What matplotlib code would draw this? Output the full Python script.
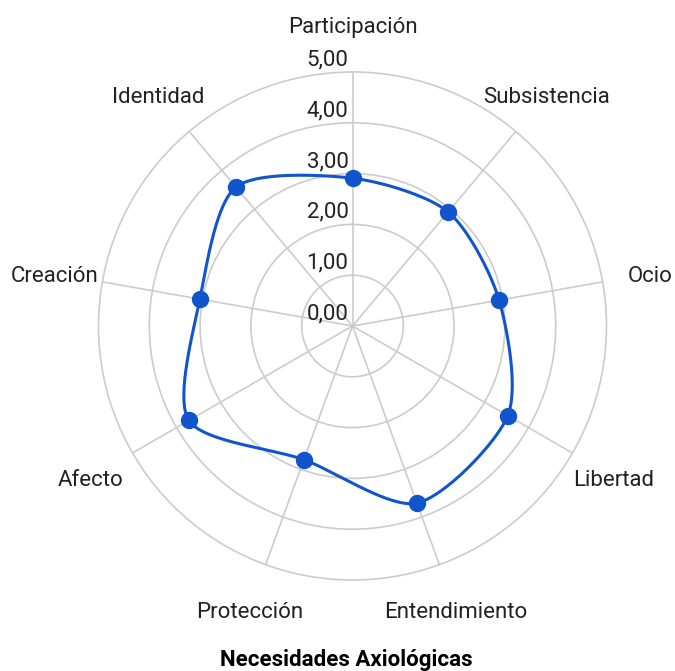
import numpy as np
import matplotlib
matplotlib.use("Agg")
import matplotlib.pyplot as plt

# datos del gráfico
categorias = ["Participación", "Subsistencia", "Ocio", "Libertad", "Entendimiento",
              "Protección", "Afecto", "Creación", "Identidad"]
valores = [2.91, 2.93, 2.93, 3.53, 3.71, 2.80, 3.72, 3.05, 3.57]
ticks = [0, 1, 2, 3, 4, 5]
etiquetas_ticks = ["0,00", "1,00", "2,00", "3,00", "4,00", "5,00"]
titulo = "Necesidades Axiológicas"

AZUL = "#1155cc"
GRIS = "#cccccc"

plt.rcParams['font.family'] = ['Roboto', 'DejaVu Sans']


# curva suavizada (spline cardinal cerrada) en coordenadas cartesianas
def curva_suave(theta, r, f=0.4, n=40):
    pts = np.column_stack([r * np.sin(theta), r * np.cos(theta)])
    k = len(pts)
    out = []
    t = np.linspace(0, 1, n, endpoint=False)[:, None]
    h00 = 2 * t ** 3 - 3 * t ** 2 + 1
    h10 = t ** 3 - 2 * t ** 2 + t
    h01 = -2 * t ** 3 + 3 * t ** 2
    h11 = t ** 3 - t ** 2
    for i in range(k):
        p0, p1, p2, p3 = pts[(i - 1) % k], pts[i], pts[(i + 1) % k], pts[(i + 2) % k]
        m1 = f * (p2 - p0)
        m2 = f * (p3 - p1)
        out.append(h00 * p1 + h10 * m1 + h01 * p2 + h11 * m2)
    out.append(pts[:1])
    out = np.vstack(out)
    return np.arctan2(out[:, 0], out[:, 1]), np.hypot(out[:, 0], out[:, 1])


W, H = 675, 671
fig = plt.figure(figsize=(W / 100, H / 100), dpi=100)
cx, cy, R = 352.5, 326, 254
ax = fig.add_axes([(cx - R) / W, (H - cy - R) / H, 2 * R / W, 2 * R / H], projection='polar')
ax.set_theta_zero_location('N')
ax.set_theta_direction(-1)
ax.set_ylim(0, 5)

angulos = np.arange(len(categorias)) * 2 * np.pi / len(categorias)

# rejilla
ax.set_rgrids(ticks[1:-1], labels=[""] * 4)
ax.set_thetagrids(np.degrees(angulos), labels=[""] * len(categorias))
ax.grid(True, color=GRIS, linewidth=1.2)
ax.spines['polar'].set_color(GRIS)
ax.spines['polar'].set_linewidth(1.2)
ax.set_facecolor('white')

# serie
th, rr = curva_suave(angulos, np.array(valores))
ax.plot(th, rr, color=AZUL, linewidth=2.2, zorder=3)
ax.plot(angulos, valores, 'o', color=AZUL, markersize=11.5, zorder=4, clip_on=False)

# etiquetas de escala
for v, lab in zip(ticks, etiquetas_ticks):
    ax.annotate(lab, xy=(0, v), xytext=(-4, 12), textcoords='offset pixels',
                ha='right', va='center', fontsize=16, color='#222222', zorder=5)

# etiquetas de categorías
for a, lab in zip(angulos, categorias):
    ax.annotate(lab, xy=(a, 5 * 302 / 254), xytext=(0, -3), textcoords='offset pixels',
                ha='center', va='center', fontsize=16, color='#222222', annotation_clip=False)

fig.text(346 / W, 1 - 660 / H, titulo, ha='center', va='center', fontsize=16,
         fontweight='bold', color='#000000')

fig.savefig("out.png", dpi=100, facecolor='white')
